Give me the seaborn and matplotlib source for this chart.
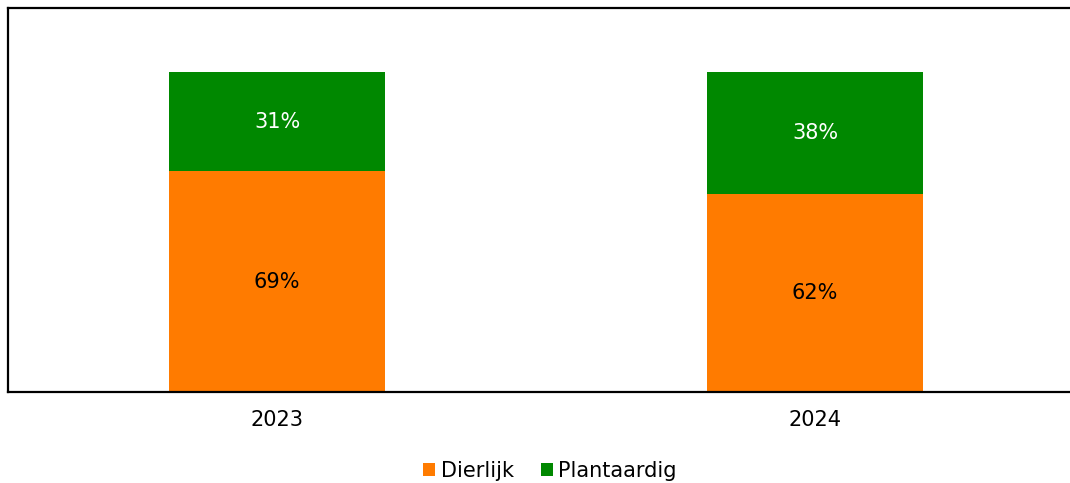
import matplotlib
matplotlib.use("Agg")
import matplotlib.pyplot as plt
import seaborn as sns
import pandas as pd
from matplotlib.patches import Patch

years = ["2023", "2024"]
dierlijk = [69, 62]
plantaardig = [31, 38]
series_names = ["Dierlijk", "Plantaardig"]
colors = {"Dierlijk": "#ff7b00", "Plantaardig": "#008800"}

sns.set_theme(style="white")
plt.rcParams["font.family"] = ["DejaVu Sans"]
plt.rcParams["text.color"] = "black"

df = pd.DataFrame({"jaar": years, "Dierlijk": dierlijk, "Plantaardig": plantaardig})
df["totaal"] = df["Dierlijk"] + df["Plantaardig"]

fig = plt.figure(figsize=(10.7, 4.83), dpi=100)
ax = fig.add_axes([8 / 1070, 91 / 483, 1076 / 1070, 384 / 483])

# Stacked bars: draw the total first, then the lower segment on top
sns.barplot(data=df, x="jaar", y="totaal", color=colors["Plantaardig"],
            width=0.4, ax=ax, saturation=1, linewidth=0)
sns.barplot(data=df, x="jaar", y="Dierlijk", color=colors["Dierlijk"],
            width=0.4, ax=ax, saturation=1, linewidth=0)

fs = 15
for i, (d, p) in enumerate(zip(dierlijk, plantaardig)):
    ax.text(i, d / 2, f"{d}%", ha="center", va="center", fontsize=fs, color="black")
    ax.text(i, d + p / 2, f"{p}%", ha="center", va="center", fontsize=fs, color="white")

ax.set_xlim(-0.5, 1.5)
ax.set_ylim(0, 120)
ax.set_xlabel("")
ax.set_ylabel("")
ax.set_yticks([])
ax.tick_params(axis="x", length=0, labelsize=fs, pad=13, colors="black")
for side in ["top", "left", "bottom"]:
    ax.spines[side].set_visible(True)
    ax.spines[side].set_color("black")
    ax.spines[side].set_linewidth(1.6)
ax.spines["right"].set_visible(False)

handles = [Patch(facecolor=colors[n], edgecolor="none", label=n) for n in series_names]
fig.legend(handles=handles, loc="center", bbox_to_anchor=(550 / 1070, 1 - 471 / 483),
           ncol=2, frameon=False, fontsize=fs, handlelength=0.6, handleheight=0.6,
           handletextpad=0.25, columnspacing=1.3, labelcolor="black")

fig.savefig("out.png", dpi=100)
